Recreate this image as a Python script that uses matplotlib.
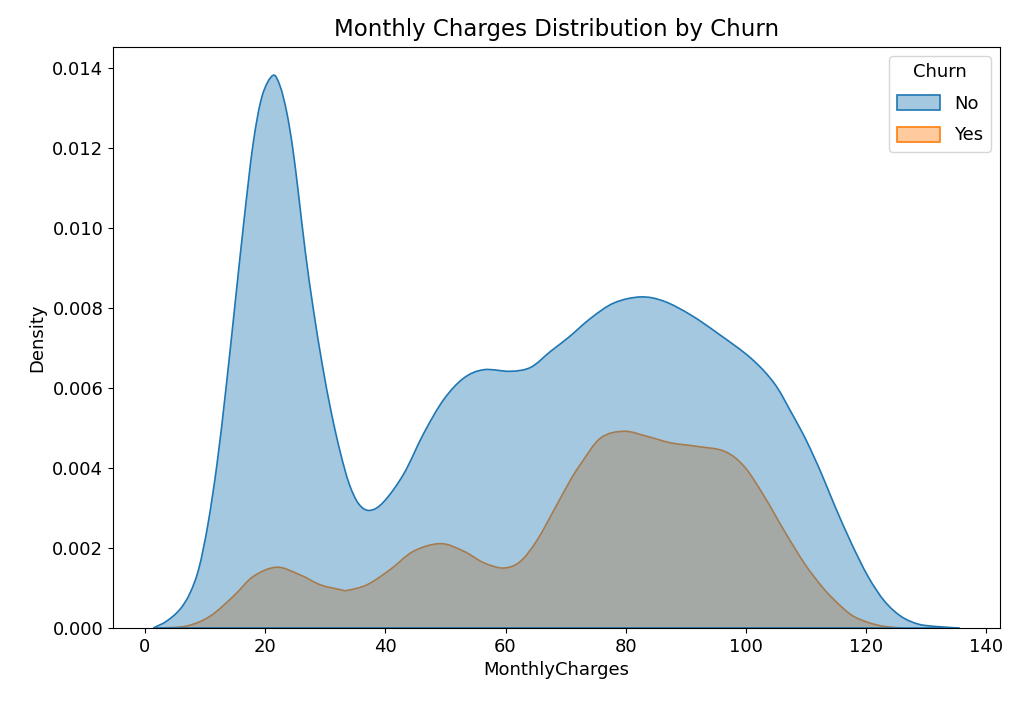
"""
Monthly charges density by churn status, drawn as layered filled KDE curves.
"""

import matplotlib
matplotlib.use("Agg")
import matplotlib.pyplot as plt
from matplotlib.colors import to_rgba
from matplotlib.patches import Patch, PathPatch
from matplotlib.path import Path

# Density curves (MonthlyCharges, density)
no_x = [1.4, 3.6, 5.8, 7.5, 9.0, 10.5, 12.0, 13.5, 15.0, 16.5, 18.0, 19.5,
        21.3, 22.5, 23.6, 24.6, 25.6, 26.7, 28.0, 29.5, 31.0, 32.5, 34.0,
        35.6, 37.4, 39.7, 43.05, 46.4, 49.7, 53.05, 56.4, 60.8, 64.2, 67.5,
        70.5, 74.2, 78.05, 82.5, 86.4, 90.8, 95.3, 100.8, 104.7, 107.5,
        110.0, 112.5, 114.7, 117.5, 120.3, 123.05, 125.8, 128.6, 131.4,
        135.5]
no_y = [0.0, 0.00017, 0.00046, 0.00087, 0.0015, 0.0026, 0.0041, 0.0060,
        0.0081, 0.0102, 0.0121, 0.0133, 0.01382, 0.01355, 0.0129, 0.0120,
        0.0108, 0.0094, 0.0080, 0.0066, 0.0054, 0.0044, 0.0036, 0.0031,
        0.00294, 0.00315, 0.00385, 0.00487, 0.00571, 0.00625, 0.00646,
        0.00642, 0.00652, 0.00692, 0.00727, 0.00775, 0.00813, 0.00828,
        0.00817, 0.00783, 0.00737, 0.00675, 0.00612, 0.0054, 0.0047,
        0.00388, 0.00308, 0.00213, 0.00129, 0.00067, 0.00029, 0.0001,
        0.00004, 0.0]

yes_x = [2.5, 6.95, 10.8, 14.7, 18.05, 21.95, 25.8, 29.2, 32.5, 33.6, 36.95,
         40.8, 44.7, 49.2, 53.05, 56.4, 59.7, 62.5, 65.3, 68.6, 70.8, 72.5,
         75.8, 79.7, 83.6, 87.5, 91.95, 96.4, 99.7, 103.05, 106.4, 109.7,
         112.5, 114.7, 117.5, 120.3, 123.0, 126.0]
yes_y = [0.0, 0.00005, 0.00029, 0.00079, 0.00129, 0.00152, 0.00133, 0.00108,
         0.00096, 0.00094, 0.00108, 0.00146, 0.00192, 0.00211, 0.00192,
         0.00163, 0.0015, 0.00167, 0.00221, 0.0031, 0.0037, 0.0041,
         0.00475, 0.00492, 0.00479, 0.00463, 0.00454, 0.00442, 0.00404,
         0.00329, 0.00242, 0.00162, 0.00106, 0.0007, 0.00033, 0.00014,
         0.00004, 0.0]

churn_levels = ["No", "Yes"]
colors = {"No": "#1f77b4", "Yes": "#ff7f0e"}
FILL_ALPHA = 0.4


def smooth_area_path(x, y):
    """Closed path through the points, using Catmull-Rom style cubic segments."""
    pts = list(zip(x, y))
    n = len(pts)
    verts = [pts[0]]
    codes = [Path.MOVETO]
    for i in range(n - 1):
        p0 = pts[max(i - 1, 0)]
        p1 = pts[i]
        p2 = pts[i + 1]
        p3 = pts[min(i + 2, n - 1)]
        c1 = (p1[0] + (p2[0] - p0[0]) / 6, p1[1] + (p2[1] - p0[1]) / 6)
        c2 = (p2[0] - (p3[0] - p1[0]) / 6, p2[1] - (p3[1] - p1[1]) / 6)
        verts += [c1, c2, p2]
        codes += [Path.CURVE4] * 3
    # back along the baseline
    verts += [(x[-1], 0), (x[0], 0), (x[0], 0)]
    codes += [Path.LINETO, Path.LINETO, Path.CLOSEPOLY]
    return Path(verts, codes)


def draw_density(ax, x, y, color):
    """Filled density curve with an opaque outline."""
    patch = PathPatch(smooth_area_path(x, y),
                      facecolor=to_rgba(color, FILL_ALPHA),
                      edgecolor=color, linewidth=1.2)
    ax.add_patch(patch)


fig = plt.figure(figsize=(10.18, 7.08), dpi=100)
ax = fig.add_axes([0.111, 0.113, 0.871, 0.8206])

# seaborn layers the last hue level first
draw_density(ax, yes_x, yes_y, colors["Yes"])
draw_density(ax, no_x, no_y, colors["No"])

ax.set_xlim(-5.3, 142.2)
ax.set_ylim(0, 0.01453)

ax.set_title("Monthly Charges Distribution by Churn", fontsize=16.5, pad=8)
ax.set_xlabel("MonthlyCharges", fontsize=13)
ax.set_ylabel("Density", fontsize=13)
ax.tick_params(labelsize=13)
ax.set_xticks(range(0, 141, 20))
ax.set_yticks([0.0, 0.002, 0.004, 0.006, 0.008, 0.010, 0.012, 0.014])
ax.yaxis.set_major_formatter(plt.FormatStrFormatter("%.3f"))

handles = [Patch(facecolor=to_rgba(colors[k], FILL_ALPHA),
                 edgecolor=colors[k], linewidth=1.2) for k in churn_levels]
ax.legend(handles, churn_levels, title="Churn", loc="upper right",
          fontsize=13, title_fontsize=13, labelspacing=0.75,
          handlelength=2.4, handleheight=0.9)

fig.savefig("out.png", dpi=100, facecolor="white")
